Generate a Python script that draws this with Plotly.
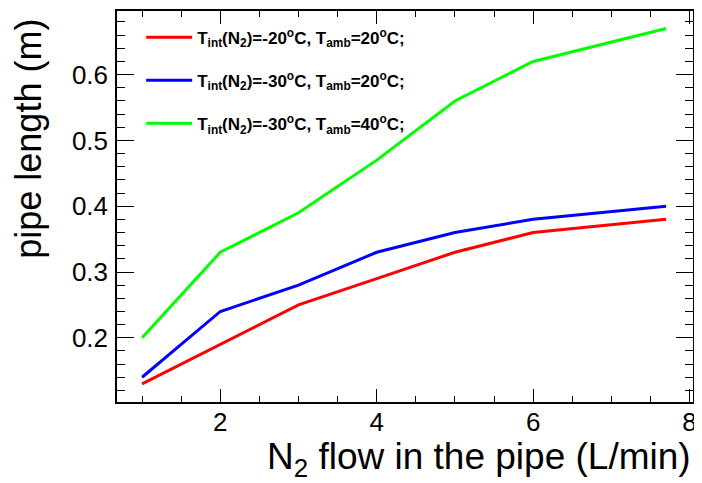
import plotly.graph_objects as go

flow = [1, 2, 3, 4, 5, 6, 7.7]
red_len = [0.13, 0.19, 0.25, 0.29, 0.33, 0.36, 0.38]
blue_len = [0.14, 0.24, 0.28, 0.33, 0.36, 0.38, 0.40]
green_len = [0.20, 0.33, 0.39, 0.47, 0.56, 0.62, 0.67]
names = [
    "<b>T<sub>int</sub>(N<sub>2</sub>)=-20<sup>o</sup>C, T<sub>amb</sub>=20<sup>o</sup>C;</b>",
    "<b>T<sub>int</sub>(N<sub>2</sub>)=-30<sup>o</sup>C, T<sub>amb</sub>=20<sup>o</sup>C;</b>",
    "<b>T<sub>int</sub>(N<sub>2</sub>)=-30<sup>o</sup>C, T<sub>amb</sub>=40<sup>o</sup>C;</b>",
]
colors = ["#ff0000", "#0000ff", "#00ff00"]
series = [red_len, blue_len, green_len]

FONT = "Liberation Sans, Arial, Helvetica, sans-serif"

fig = go.Figure()
for i, (y, n, c) in enumerate(zip(series, names, colors)):
    fig.add_trace(go.Scatter(x=flow, y=y, mode="lines", name=n,
                             line=dict(color=c, width=3),
                             legendgroup=f"g{i}"))

axis_common = dict(
    showgrid=False, zeroline=False, showline=True, linecolor="black",
    linewidth=1.5, mirror="ticks", ticks="inside", tickcolor="black",
    tickwidth=1.2, tickfont=dict(family=FONT, size=26, color="black"),
    automargin=False,
)

fig.update_xaxes(range=[0.679, 8.044], dtick=2, tick0=0, ticklen=13,
                 ticklabelstandoff=-4,
                 minor=dict(dtick=0.5, ticklen=6, ticks="inside", tickcolor="black", tickwidth=1.2),
                 **axis_common)
fig.update_yaxes(range=[0.1024, 0.6967], dtick=0.1, tick0=0, tickformat=".1f", ticklen=17,
                 ticklabelstandoff=2,
                 minor=dict(dtick=0.02, ticklen=8, ticks="inside", tickcolor="black", tickwidth=1.2),
                 **axis_common)

fig.add_annotation(text="N<sub>2</sub> flow in the pipe (L/min)", xref="paper", yref="paper",
                   x=1.0, y=-0.145, xanchor="right", yanchor="middle", showarrow=False,
                   font=dict(family=FONT, size=37, color="black"))
fig.add_annotation(text="pipe length (m)", xref="paper", yref="paper",
                   x=-0.153, y=0.985, xanchor="center", yanchor="top", textangle=-90,
                   showarrow=False, font=dict(family=FONT, size=36, color="black"))

# page body has an 8px margin: figure is offset so the plot frame lands at the reference position
fig.update_layout(
    width=694, height=475,
    margin=dict(l=109, r=9.3, t=2.7, b=81.3, autoexpand=False),
    plot_bgcolor="white", paper_bgcolor="white",
    showlegend=True,
    legend=dict(x=0.042, y=0.978, xanchor="left", yanchor="top", itemwidth=46,
                bgcolor="rgba(0,0,0,0)", traceorder="grouped", tracegroupgap=18,
                font=dict(family=FONT, size=17, color="black")),
)

fig.write_html("out.html")
